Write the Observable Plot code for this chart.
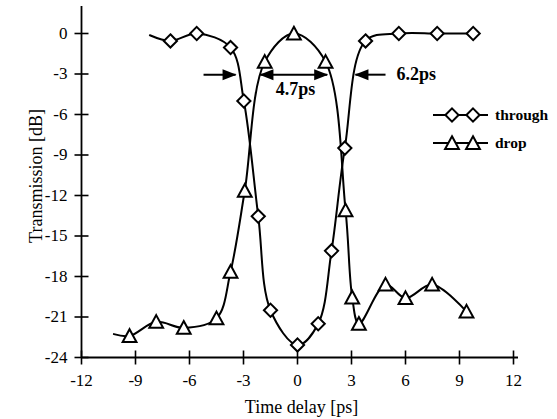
<!DOCTYPE html>
<html><head><meta charset="utf-8">
<script src="https://cdn.jsdelivr.net/npm/d3@7"></script>
<script src="https://cdn.jsdelivr.net/npm/@observablehq/plot@0.6"></script>
<style>
html,body{margin:0;padding:0;background:#fff;}
#chart{position:relative;width:557px;height:419px;}
#chart svg{display:block}
#legend{position:absolute;left:0;top:0;pointer-events:none;}
</style></head><body><div id="chart"></div>
<script>
// ---- data ----
const xTicks = [-12, -9, -6, -3, 0, 3, 6, 9, 12];
const yTicks = [0, -3, -6, -9, -12, -15, -18, -21, -24];
const xLabel = "Time delay [ps]";
const yLabel = "Transmission [dB]";
const seriesNames = ["through", "drop"];

// through: first point only starts the curve (no marker)
const throughX = [-8.2, -7.06, -5.6, -3.72, -2.98, -2.18, -1.5, 0, 1.15, 1.89, 2.63, 3.78, 5.63, 7.76, 9.76];
const throughY = [-0.13, -0.55, 0, -1.04, -5.0, -13.54, -20.5, -23.07, -21.5, -16.1, -8.49, -0.55, 0, 0, 0];
const throughMarked = [0,1,1,1,1,1,1,1,1,1,1,1,1,1,1];

const dropX = [-10.2, -9.33, -7.85, -6.32, -4.5, -3.72, -2.93, -1.82, -0.2, 1.56, 2.67, 3.04, 3.41, 4.89, 6.0, 7.48, 9.39];
const dropY = [-22.27, -22.4, -21.36, -21.8, -21.1, -17.65, -11.65, -2.1, 0, -2.1, -13.1, -19.55, -21.5, -18.6, -19.6, -18.6, -20.6];
const dropMarked = [0,1,1,1,1,1,1,1,1,1,1,1,1,1,1,1,1];

// annotations (arrows at the -3 dB level)
const arrowX1 = [-5.22, -2.06, 4.89];
const arrowX2 = [-3.44, 1.65, 3.22];
const arrowY = [-3.05, -3.05, -3.05];
const arrowBoth = [false, true, false];
const noteText = ["4.7ps", "6.2ps"];
const noteX = [-0.11, 5.5];
const noteY = [-4.15, -3.05];
const noteAnchor = ["middle", "start"];

// ---- tables ----
const through = throughX.map((x, i) => ({x, y: throughY[i], m: throughMarked[i]}));
const drop = dropX.map((x, i) => ({x, y: dropY[i], m: dropMarked[i]}));
const arrows = arrowX1.map((x1, i) => ({x1, x2: arrowX2[i], y: arrowY[i], both: arrowBoth[i]}));
const heads = [];
arrows.forEach(a => {
  const dir = a.x2 > a.x1 ? "right" : "left";
  heads.push({x: a.x2, y: a.y, dir});
  if (a.both) heads.push({x: a.x1, y: a.y, dir: dir === "right" ? "left" : "right"});
});
const notes = noteText.map((t, i) => ({t, x: noteX[i], y: noteY[i], a: noteAnchor[i]}));

// ---- symbols ----
const rad = s => Math.sqrt(s / Math.PI);
const diamondSym = {draw(c, s) { const h = rad(s) * 1.1; c.moveTo(0, -h); c.lineTo(h, 0); c.lineTo(0, h); c.lineTo(-h, 0); c.closePath(); }};
const triSym = {draw(c, s) { const r = rad(s); c.moveTo(0, -r * 1.12); c.lineTo(r * 1.15, r * 1.0); c.lineTo(-r * 1.15, r * 1.0); c.closePath(); }};
const vTick = {draw(c, s) { const r = rad(s); c.moveTo(0, -r); c.lineTo(0, r); }};
const hTick = {draw(c, s) { const r = rad(s); c.moveTo(-r, 0); c.lineTo(r, 0); }};
const headR = {draw(c, s) { const r = rad(s); c.moveTo(1, 0); c.lineTo(-2 * r, -r * 0.85); c.lineTo(-2 * r, r * 0.85); c.closePath(); }};
const headL = {draw(c, s) { const r = rad(s); c.moveTo(-1, 0); c.lineTo(2 * r, -r * 0.85); c.lineTo(2 * r, r * 0.85); c.closePath(); }};

const yMin = d3.min(yTicks), xMin = d3.min(xTicks);
const serif = "'Liberation Serif', 'Times New Roman', serif";

const plot = Plot.plot({
  width: 557,
  height: 419,
  marginLeft: 81,
  marginRight: 44,
  marginTop: 6,
  marginBottom: 62,
  style: {fontFamily: serif, fontSize: "17px", background: "white", color: "black"},
  x: {domain: [-12, 12]},
  y: {domain: [-24, 2]},
  marks: [
    Plot.axisX({ticks: xTicks, tickSize: 0, tickPadding: 16, tickFormat: d => String(d), label: null}),
    Plot.axisY({ticks: yTicks, tickSize: 0, tickPadding: 14, tickFormat: d => String(d), label: null}),
    Plot.ruleX([xMin], {stroke: "black", strokeWidth: 1.8}),
    Plot.ruleY([yMin], {stroke: "black", strokeWidth: 1.8, insetRight: -5}),
    Plot.dot(xTicks, {x: d => d, y: () => yMin, symbol: vTick, r: 7, stroke: "black", strokeWidth: 1.6, fill: "none"}),
    Plot.dot(yTicks, {x: () => xMin, y: d => d, symbol: hTick, r: 7, stroke: "black", strokeWidth: 1.6, fill: "none"}),
    Plot.line(through, {x: "x", y: "y", curve: "catmull-rom", stroke: "black", strokeWidth: 2}),
    Plot.line(drop, {x: "x", y: "y", curve: "catmull-rom", stroke: "black", strokeWidth: 2}),
    Plot.dot(through.filter(d => d.m), {x: "x", y: "y", symbol: diamondSym, r: 6, fill: "white", stroke: "black", strokeWidth: 2}),
    Plot.dot(drop.filter(d => d.m), {x: "x", y: "y", symbol: triSym, r: 6, fill: "white", stroke: "black", strokeWidth: 2}),
    Plot.link(arrows, {x1: "x1", x2: "x2", y1: "y", y2: "y", stroke: "black", strokeWidth: 2}),
    Plot.dot(heads.filter(d => d.dir === "right"), {x: "x", y: "y", symbol: headR, r: 6.5, fill: "black", stroke: "none"}),
    Plot.dot(heads.filter(d => d.dir === "left"), {x: "x", y: "y", symbol: headL, r: 6.5, fill: "black", stroke: "none"}),
    Plot.text(notes.filter(d => d.a === "start"), {x: "x", y: "y", text: "t", textAnchor: "start", fontWeight: "bold", fontSize: 18, fill: "black"}),
    Plot.text(notes.filter(d => d.a === "middle"), {x: "x", y: "y", text: "t", textAnchor: "middle", fontWeight: "bold", fontSize: 18, fill: "black"}),
    Plot.text([xLabel], {frameAnchor: "bottom", dy: 50, dx: 4, lineAnchor: "middle", textAnchor: "middle", fontSize: 18, fill: "black"}),
    Plot.text([yLabel], {frameAnchor: "left", dx: -45, dy: -6, rotate: -90, lineAnchor: "middle", textAnchor: "middle", fontSize: 18, fill: "black"})
  ]
});
const chart = document.getElementById("chart");
chart.appendChild(plot);

// ---- legend overlay ----
const leg = d3.select(chart).append("svg").attr("id", "legend").attr("width", 557).attr("height", 419);
const legSyms = [diamondSym, triSym];
seriesNames.forEach((name, i) => {
  const cy = 115 + i * 28;
  leg.append("line").attr("x1", 433).attr("x2", 488).attr("y1", cy).attr("y2", cy).attr("stroke", "black").attr("stroke-width", 2);
  [452, 473].forEach(cx => {
    leg.append("path").attr("d", d3.symbol(legSyms[i], 36 * Math.PI)()).attr("transform", `translate(${cx},${cy})`)
      .attr("fill", "white").attr("stroke", "black").attr("stroke-width", 2);
  });
  leg.append("text").attr("x", 495).attr("y", cy).attr("dy", "0.33em").text(name)
    .attr("font-family", serif).attr("font-weight", "bold").attr("font-size", 15.5);
});
</script></body></html>
